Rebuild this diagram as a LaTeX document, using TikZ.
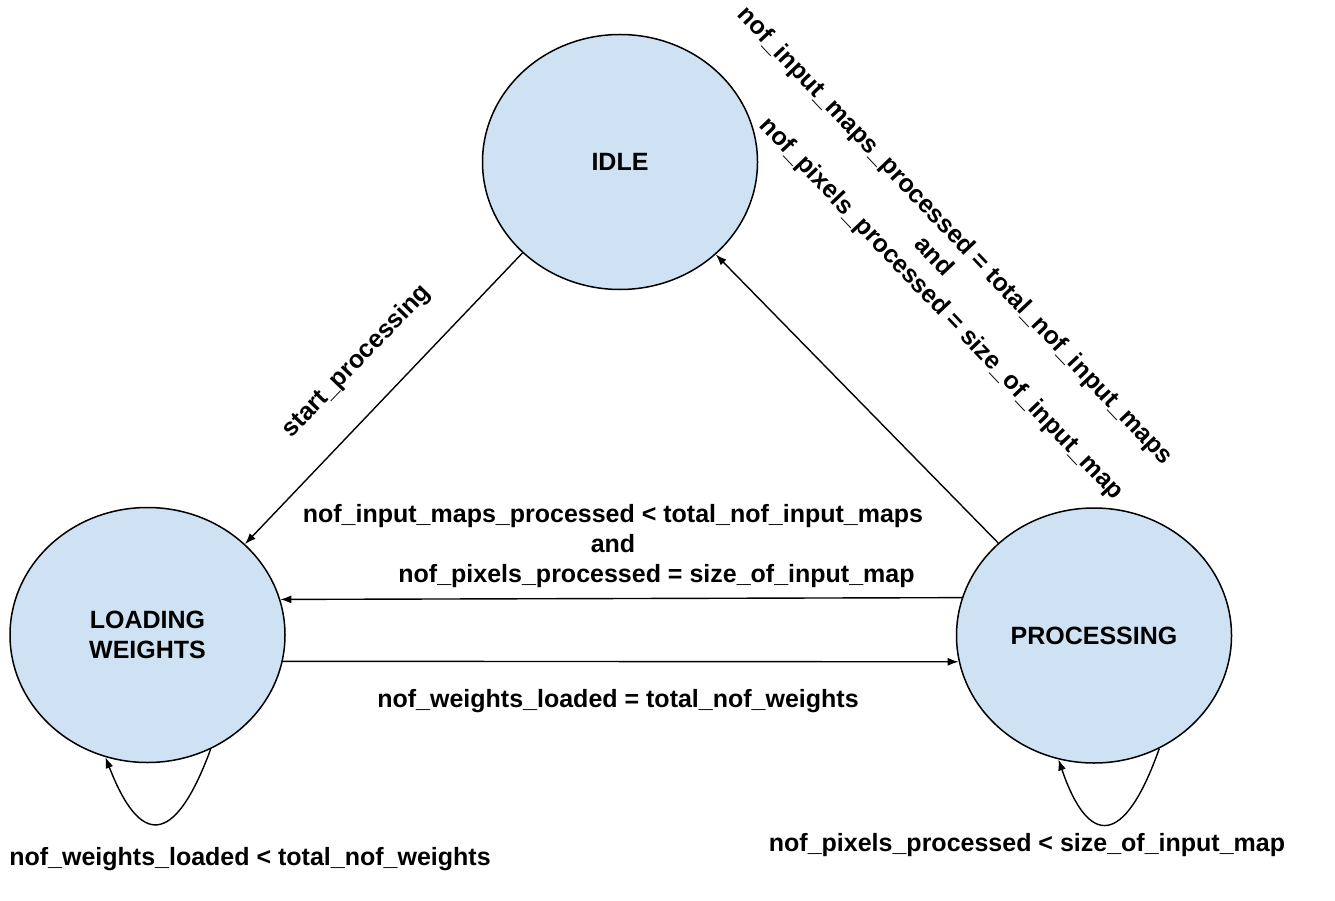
\documentclass[tikz,border=0pt]{standalone}
\usepackage{fontspec}
\setmainfont{Liberation Sans}
\usetikzlibrary{arrows.meta,shapes.geometric}
\definecolor{statefill}{HTML}{CFE2F3}

\begin{document}
\begin{tikzpicture}[x=1pt, y=-1pt,
  every node/.style={font=\bfseries\fontsize{25}{30}\selectfont},
  state/.style={
    ellipse, draw=black, fill=statefill, line width=1.5pt,
    minimum width=275pt, minimum height=255pt, inner sep=0pt, align=center,
  },
  arrow/.style={-{Latex[length=11pt,width=8pt]}, line width=1.4pt},
  cond/.style={align=center, inner sep=0pt},
]
  \useasboundingbox (0,0) rectangle (1335,901);

  \node[state] (idle) at (620,162)    {IDLE};
  \node[state] (load) at (147.5,635)  {LOADING\\WEIGHTS};
  \node[state] (proc) at (1094,635.5) {PROCESSING};

  \draw[arrow] (idle.223.2) -- (load.43.3);
  \draw[arrow] (proc.136.4) -- (idle.316.5);
  \draw[arrow] (proc.164.7) -- (load.15.3);
  \draw[arrow] (load.-11.6) -- (proc.191.6);
  \draw[arrow] (load.299.2) .. controls +(-37,100) and +(34,88) .. (load.251.9);
  \draw[arrow] (proc.300.7) .. controls +(-35,99) and +(30,88) .. (proc.254.1);

  \node[cond, rotate=46] (lstart) at (357,362) {start\_processing};
  \node[cond, rotate=-46.5] (ldone) at (933,257)
    {nof\_input\_maps\_processed = total\_nof\_input\_maps\\and\\
     \hspace*{87pt}nof\_pixels\_processed = size\_of\_input\_map};
  \node[cond] (lnext) at (613,546)
    {nof\_input\_maps\_processed < total\_nof\_input\_maps\\and\\
     \hspace*{87pt}nof\_pixels\_processed = size\_of\_input\_map};
  \node[cond] (lloaded) at (618,701) {nof\_weights\_loaded = total\_nof\_weights};
  \node[cond] (lwait) at (250,859) {nof\_weights\_loaded < total\_nof\_weights};
  \node[cond] (lpix) at (1027,845) {nof\_pixels\_processed < size\_of\_input\_map};
\end{tikzpicture}
\end{document}
